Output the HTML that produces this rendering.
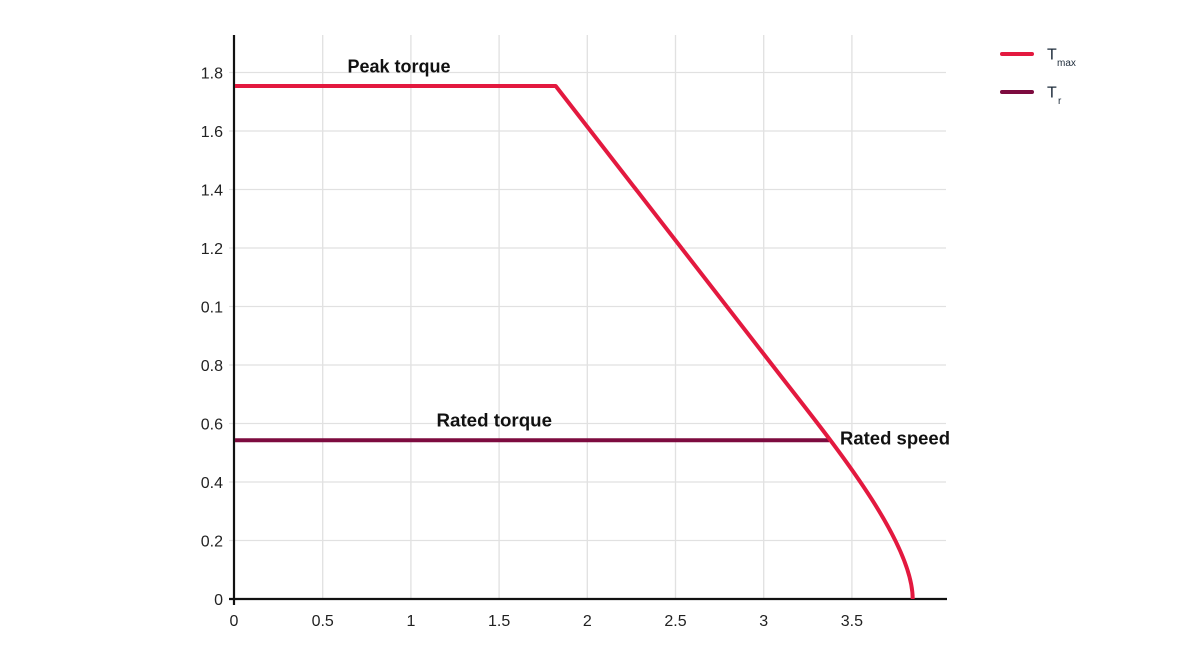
<!DOCTYPE html>
<html>
<head>
<meta charset="utf-8">
<style>
html,body{margin:0;padding:0;background:#fff;}
svg{display:block;}
text{font-family:"Liberation Sans",sans-serif;}
</style>
</head>
<body>
<svg width="1180" height="664" viewBox="0 0 1180 664" xmlns="http://www.w3.org/2000/svg">
  <rect width="1180" height="664" fill="#fff"/>
  <!-- grid -->
  <g stroke="#e1e1e1" stroke-width="1.3" fill="none">
    <line x1="322.7" y1="35" x2="322.7" y2="599"/>
    <line x1="410.9" y1="35" x2="410.9" y2="599"/>
    <line x1="499.1" y1="35" x2="499.1" y2="599"/>
    <line x1="587.3" y1="35" x2="587.3" y2="599"/>
    <line x1="675.5" y1="35" x2="675.5" y2="599"/>
    <line x1="763.7" y1="35" x2="763.7" y2="599"/>
    <line x1="851.9" y1="35" x2="851.9" y2="599"/>
    <line x1="229" y1="540.5" x2="946" y2="540.5"/>
    <line x1="229" y1="482" x2="946" y2="482"/>
    <line x1="229" y1="423.5" x2="946" y2="423.5"/>
    <line x1="229" y1="365" x2="946" y2="365"/>
    <line x1="229" y1="306.5" x2="946" y2="306.5"/>
    <line x1="229" y1="248" x2="946" y2="248"/>
    <line x1="229" y1="189.5" x2="946" y2="189.5"/>
    <line x1="229" y1="131" x2="946" y2="131"/>
    <line x1="229" y1="72.5" x2="946" y2="72.5"/>
  </g>
  <!-- axes -->
  <g stroke="#111" stroke-width="2.2">
    <line x1="234" y1="35" x2="234" y2="605"/>
    <line x1="229" y1="599" x2="947" y2="599"/>
  </g>
  <!-- y labels -->
  <g font-size="16" fill="#222" text-anchor="end">
    <text x="223" y="605">0</text>
    <text x="223" y="546.5">0.2</text>
    <text x="223" y="488">0.4</text>
    <text x="223" y="429.5">0.6</text>
    <text x="223" y="371">0.8</text>
    <text x="223" y="312.5">0.1</text>
    <text x="223" y="254">1.2</text>
    <text x="223" y="195.5">1.4</text>
    <text x="223" y="137">1.6</text>
    <text x="223" y="78.5">1.8</text>
  </g>
  <!-- x labels -->
  <g font-size="16" fill="#222" text-anchor="middle">
    <text x="234" y="626">0</text>
    <text x="322.7" y="626">0.5</text>
    <text x="410.9" y="626">1</text>
    <text x="499.1" y="626">1.5</text>
    <text x="587.3" y="626">2</text>
    <text x="675.5" y="626">2.5</text>
    <text x="763.7" y="626">3</text>
    <text x="851.9" y="626">3.5</text>
  </g>
  <!-- rated torque -->
  <line x1="235" y1="440.3" x2="829" y2="440.3" stroke="#7d0b3f" stroke-width="4"/>
  <!-- Tmax -->
  <path fill="none" stroke="#e3193f" stroke-width="4" stroke-linejoin="round"
    d="M235,86 L555.7,86 L780,375 C830,439.5 912.7,540 912.7,599"/>
  <!-- annotations -->
  <g font-size="18" font-weight="bold" fill="#111">
    <text x="347.5" y="72.7">Peak torque</text>
    <text x="436.5" y="426.7" textLength="115.5" lengthAdjust="spacingAndGlyphs">Rated torque</text>
    <text x="840" y="444.3" textLength="110" lengthAdjust="spacingAndGlyphs">Rated speed</text>
  </g>
  <!-- legend -->
  <line x1="1002" y1="54" x2="1032" y2="54" stroke="#e3193f" stroke-width="4" stroke-linecap="round"/>
  <text x="1047" y="59.5" font-size="16" fill="#1d2b3a">T</text>
  <text x="1057" y="66" font-size="10" fill="#1d2b3a">max</text>
  <line x1="1002" y1="92" x2="1032" y2="92" stroke="#7d0b3f" stroke-width="4" stroke-linecap="round"/>
  <text x="1047" y="97.5" font-size="16" fill="#1d2b3a">T</text>
  <text x="1058" y="104" font-size="10" fill="#1d2b3a">r</text>
</svg>
</body>
</html>
